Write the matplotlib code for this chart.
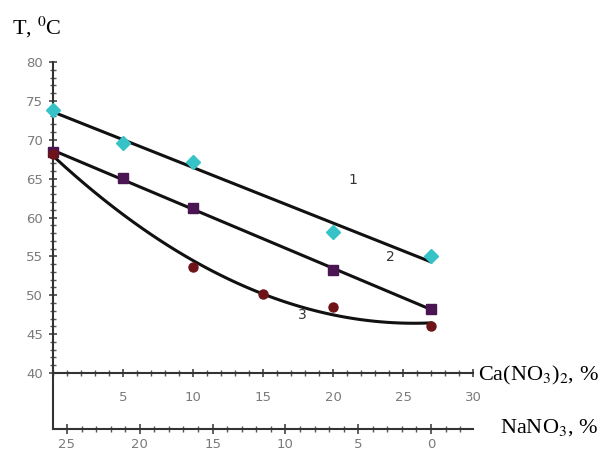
import numpy as np
import matplotlib
matplotlib.use("Agg")
import matplotlib.pyplot as plt
from matplotlib.ticker import MultipleLocator, FixedLocator

plt.rcParams["mathtext.fontset"] = "stix"

# Data: Ca(NO3)2 % vs temperature, three series
ca_1 = [0, 5, 10, 20, 27]
t_1 = [73.8, 69.6, 67.1, 58.1, 55.0]
ca_2 = [0, 5, 10, 20, 27]
t_2 = [68.4, 65.1, 61.2, 53.3, 48.2]
ca_3 = [0, 10, 15, 20, 27]
t_3 = [68.2, 53.6, 50.2, 48.5, 46.0]

ca_ticks = [5, 10, 15, 20, 25, 30]
y_ticks = [40, 45, 50, 55, 60, 65, 70, 75, 80]
na_ticks = [0, 5, 10, 15, 20, 25]
curve_labels = ["1", "2", "3"]

fig = plt.figure(figsize=(6.06, 4.61), dpi=100)
ax = fig.add_axes([53/606, 1-429/461, 420/606, (429-62)/461])

ax.set_xlim(0, 30)
ax.set_ylim(32.8, 80)

gray = "#7a7a7a"
# trend lines
xs = np.linspace(0, 27, 100)
p1 = np.polyfit(ca_1, t_1, 1)
p2 = np.polyfit(ca_2, t_2, 1)
p3 = np.polyfit(ca_3, t_3, 2)
ax.plot(xs, np.polyval(p1, xs), color="#111111", lw=2.2, zorder=2, clip_on=False)
ax.plot(xs, np.polyval(p2, xs), color="#111111", lw=2.2, zorder=2, clip_on=False)
ax.plot(xs, np.polyval(p3, xs), color="#111111", lw=2.2, zorder=2, clip_on=False)

ax.plot(ca_1, t_1, ls="none", marker="D", ms=7, color="#35c3c8", zorder=3, clip_on=False)
ax.plot(ca_2, t_2, ls="none", marker="s", ms=7.5, color="#4a1552", zorder=3, clip_on=False)
ax.plot(ca_3, t_3, ls="none", marker="o", ms=6.5, color="#6e1418", zorder=3, clip_on=False)

# curve numbers
ax.text(21.4, 64.8, curve_labels[0], fontsize=10, color="#333333", ha="center", va="center")
ax.text(24.1, 54.9, curve_labels[1], fontsize=10, color="#333333", ha="center", va="center")
ax.text(17.8, 47.5, curve_labels[2], fontsize=10, color="#333333", ha="center", va="center")

# spines
for s in ["top", "right"]:
    ax.spines[s].set_visible(False)
ax.spines["bottom"].set_position(("data", 40))
ax.spines["left"].set_color("#333333")
ax.spines["bottom"].set_color("#333333")
ax.spines["left"].set_linewidth(1.5)
ax.spines["bottom"].set_linewidth(1.5)

ax.xaxis.set_major_locator(FixedLocator(ca_ticks))
ax.xaxis.set_minor_locator(MultipleLocator(1))
ax.yaxis.set_major_locator(FixedLocator(y_ticks))
ax.yaxis.set_minor_locator(FixedLocator(np.arange(40, 81, 1)))
ax.tick_params(axis="both", which="major", direction="inout", length=6, width=1.2,
               color="#444444", labelcolor=gray, labelsize=9.5)
ax.tick_params(axis="both", which="minor", direction="inout", length=4, width=1,
               color="#555555")
ax.tick_params(axis="x", pad=10)
ax.tick_params(axis="y", pad=4)

# secondary axis NaNO3
def ca2na(x):
    return 25.96 - 0.9615 * np.asarray(x)

def na2ca(n):
    return (25.96 - np.asarray(n)) / 0.9615

sec = ax.secondary_xaxis("bottom", functions=(ca2na, na2ca))
sec.spines["bottom"].set_color("#333333")
sec.spines["bottom"].set_linewidth(1.5)
sec.xaxis.set_major_locator(FixedLocator(na_ticks))
sec.xaxis.set_minor_locator(FixedLocator(np.arange(-2, 26, 1)))
sec.tick_params(axis="x", which="major", direction="inout", length=7, width=1.2,
                color="#444444", labelcolor=gray, labelsize=9.5, pad=3)
sec.tick_params(axis="x", which="minor", direction="inout", length=4, width=1,
                color="#555555")

serif = "Liberation Serif"
fig.text(12/606, 1-27/461, "T, $^{0}$C", fontsize=16, family=serif, va="center", ha="left")
fig.text(478/606, 1-375/461, "Ca(NO$_3$)$_2$, %", fontsize=16, family=serif, va="center", ha="left")
fig.text(500/606, 1-428/461, "NaNO$_3$, %", fontsize=16, family=serif, va="center", ha="left")

fig.savefig("out.png", dpi=100)
